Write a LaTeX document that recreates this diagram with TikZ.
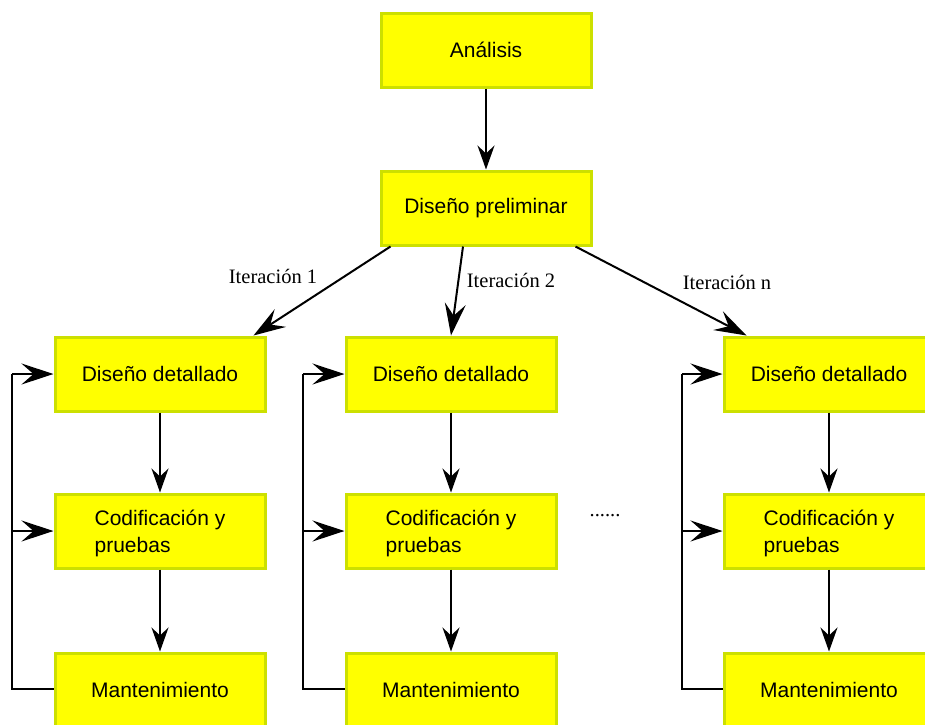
\documentclass[tikz,border=0pt]{standalone}
\usepackage{fontspec}
\setmainfont{Liberation Serif}
\setsansfont{Liberation Sans}
\usetikzlibrary{arrows.meta}

\definecolor{boxfill}{RGB}{255,255,0}
\definecolor{boxline}{RGB}{204,224,0}

\tikzset{
  phase/.style={draw=boxline, fill=boxfill, line width=3pt,
    minimum width=210pt, minimum height=74pt, inner sep=0pt,
    font=\sffamily\fontsize{21}{27}\selectfont, align=left},
  flow/.style={line width=2pt, -{Stealth[length=24pt,width=17pt,inset=8pt]}},
  bigflow/.style={line width=2pt, -{Stealth[length=32pt,width=21pt,inset=12pt]}},
  loopline/.style={line width=2pt},
  itlabel/.style={font=\rmfamily\fontsize{20.5}{24}\selectfont, anchor=base, inner sep=0pt}
}

\begin{document}
\begin{tikzpicture}[x=1pt, y=-1pt]
  \useasboundingbox (0,0) rectangle (925,724);
  \clip (0,0) rectangle (925,724);

  % top stages
  \node[phase] (ana) at (486,50) {Análisis};
  \node[phase] (pre) at (486,208) {Diseño preliminar};
  \draw[flow] (ana) -- (pre);

  % one column per iteration
  \foreach \k/\cx/\lx in {1/160/12, 2/451/303, 3/829/682} {
    \node[phase] (dd\k) at (\cx,374) {Diseño detallado};
    \node[phase, text depth=0pt] (cp\k) at (\cx,531) {Codificación y\\pruebas};
    \node[phase] (mt\k) at (\cx,690) {Mantenimiento};
    \coordinate (fb\k) at (\lx,689);
    \draw[flow] (dd\k) -- (cp\k);
    \draw[flow] (cp\k) -- (mt\k);
    \draw[loopline] (mt\k.west |- fb\k) -- (fb\k) -- (fb\k |- dd\k.west);
    \draw[bigflow] (fb\k |- dd\k.west) -- (dd\k.west);
    \draw[bigflow] (fb\k |- cp\k.west) -- (cp\k.west);
  }

  % branches from the preliminary design
  \draw[bigflow] ([xshift=11pt]pre.south west) -- ([xshift=-13pt]dd1.north east);
  \draw[bigflow] ([xshift=-23pt]pre.south) -- (dd2.north);
  \draw[bigflow] ([xshift=-17pt]pre.south east) -- ([xshift=24pt]dd3.north west);

  \node[itlabel] (it1) at (273,283) {Iteración 1};
  \node[itlabel] (it2) at (511,287) {Iteración 2};
  \node[itlabel] (itn) at (727,289) {Iteración n};
  \node[itlabel] (dots) at (605,516) {......};
\end{tikzpicture}
\end{document}
